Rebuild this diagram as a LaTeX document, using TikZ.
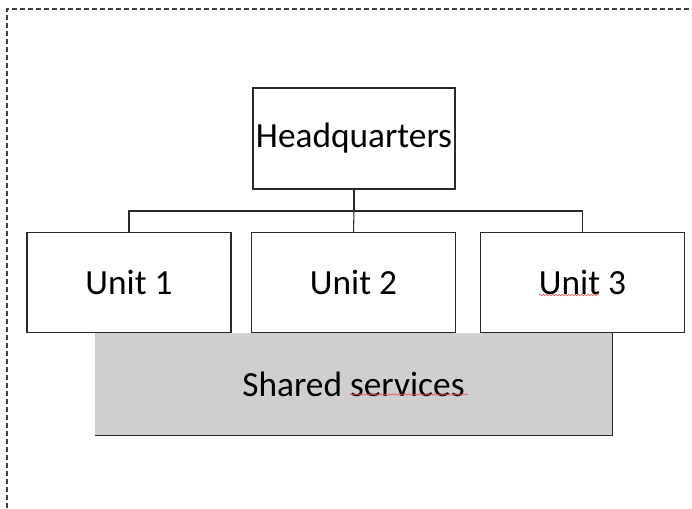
\documentclass[tikz,border=0pt]{standalone}
\usepackage{fontspec}
\setmainfont{Carlito}
\usetikzlibrary{decorations.pathmorphing}
\definecolor{boxline}{RGB}{40,40,40}
\definecolor{sharedfill}{RGB}{208,206,206}
\definecolor{frameline}{RGB}{60,60,60}
\definecolor{spellmark}{RGB}{235,80,80}
\tikzset{
  orgbox/.style   ={draw=boxline, fill=white, line width=0.8pt, inner sep=0pt,
                    font=\fontsize{26.5}{31}\selectfont},
  hqbox/.style    ={orgbox, minimum width=151.5pt, minimum height=75.75pt},
  unitbox/.style  ={orgbox, minimum width=153pt, minimum height=75pt},
  sharedbox/.style={fill=sharedfill, inner sep=0pt, minimum width=387.75pt,
                    minimum height=76.5pt, font=\fontsize{26.5}{31}\selectfont},
  link/.style     ={draw=boxline, line width=0.8pt},
  frame/.style    ={draw=frameline, line width=0.8pt, dash pattern=on 3.75pt off 2.25pt},
  squiggle/.style ={draw=spellmark, line width=0.45pt,
                    decorate, decoration={snake, amplitude=0.5pt, segment length=2.4pt}},
}
\begin{document}
\begin{tikzpicture}[x=0.75pt,y=-0.75pt]
  \useasboundingbox (0,0) rectangle (692,508);
  \draw[frame] (7,508) -- (7,9) -- (692,9);
  \node[hqbox] (hq) at (354,138.5) {Headquarters};
  \node[unitbox] (unitA) at (129,282.5) {Unit 1};
  \node[unitbox] (unitB) at (353.5,282.5) {Unit 2};
  \node[unitbox] (unitC) at (582.5,282.5) {Unit 3};
  \coordinate (bus) at (354,211);
  \draw[link] (hq.south) -- (bus);
  \draw[link] (unitA.north) |- (bus) -| (unitC.north);
  \draw[link] (bus) -- (unitB.north);
  \node[sharedbox] (shared) at (353.5,384.2) {Shared services};
  \draw[link] (shared.south west) -- (shared.south east) -- (shared.north east);
  \draw[squiggle] (539,295) -- (599,295);
  \draw[squiggle] (350,394.5) -- (468,394.5);
\end{tikzpicture}
\end{document}
